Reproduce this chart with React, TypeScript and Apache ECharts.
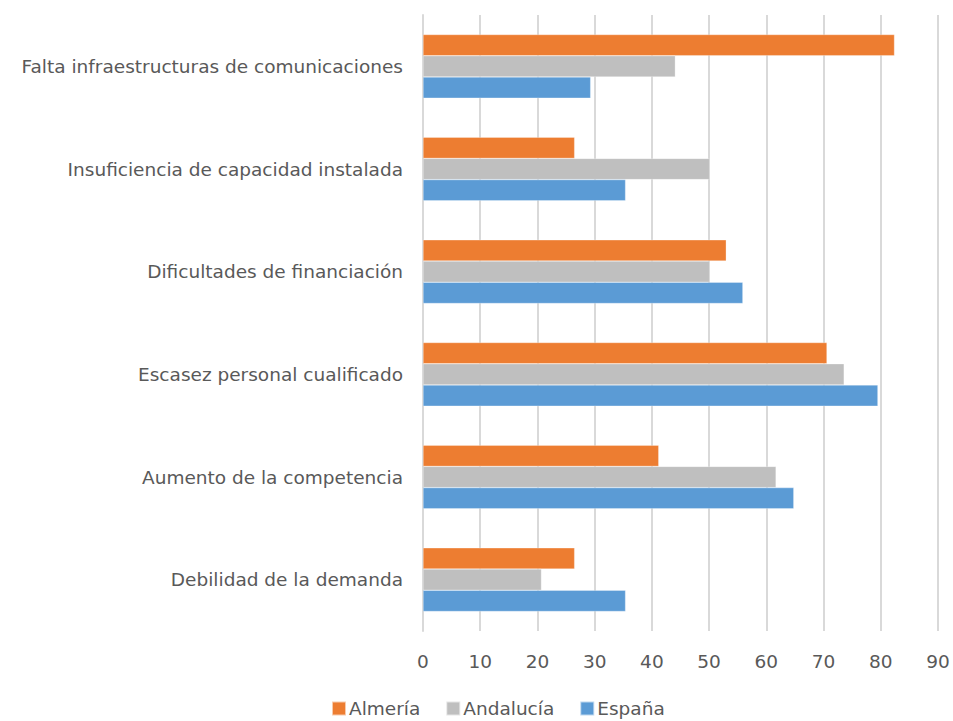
import React, { useEffect, useRef } from "react";
import * as echarts from "echarts";

const categories = [
  "Falta infraestructuras de comunicaciones",
  "Insuficiencia de capacidad instalada",
  "Dificultades de financiación",
  "Escasez personal cualificado",
  "Aumento de la competencia",
  "Debilidad de la demanda",
];
const almeria = [82.4, 26.5, 53.0, 70.6, 41.2, 26.5];
const andalucia = [44.1, 50.1, 50.1, 73.6, 61.7, 20.7];
const espana = [29.3, 35.4, 55.9, 79.5, 64.8, 35.4];

const FONT = "'DejaVu Sans', sans-serif";
const TXT = "#595959";

export default function App() {
  const ref = useRef<HTMLDivElement>(null);
  useEffect(() => {
    if (!ref.current) return;
    const chart = echarts.init(ref.current, undefined, { renderer: "svg" });
    const barStyle = (color: string) => ({
      type: "bar" as const,
      itemStyle: { color, borderColor: "rgba(255,255,255,0.6)", borderWidth: 0.5 },
      barGap: "0%",
      barCategoryGap: "38%",
    });
    chart.setOption({
      animation: false,
      backgroundColor: "#ffffff",
      textStyle: { fontFamily: FONT },
      grid: { left: 423, right: 15, top: 15, bottom: 90, containLabel: false },
      legend: {
        top: 699,
        left: 331,
        padding: 0,
        itemWidth: 14,
        itemHeight: 14,
        itemGap: 25,
        icon: "rect",
        textStyle: { fontSize: 18.5, color: TXT, fontFamily: FONT, padding: [0, 0, 0, -2] },
        data: ["Almería", "Andalucía", "España"],
      },
      xAxis: {
        type: "value",
        min: 0,
        max: 90,
        interval: 10,
        axisLine: { show: false },
        axisTick: { show: false },
        axisLabel: { fontSize: 18.5, color: TXT, margin: 21, fontFamily: FONT },
        splitLine: { show: true, lineStyle: { color: "#d9d9d9", width: 2 } },
      },
      yAxis: {
        type: "category",
        inverse: true,
        data: categories,
        axisLine: { show: true, lineStyle: { color: "#d9d9d9", width: 2 } },
        axisTick: { show: false },
        axisLabel: { fontSize: 18.5, color: TXT, margin: 20, fontFamily: FONT },
      },
      series: [
        { name: "Almería", data: almeria, ...barStyle("#ED7D31") },
        { name: "Andalucía", data: andalucia, ...barStyle("#BFBFBF") },
        { name: "España", data: espana, ...barStyle("#5B9BD5") },
      ],
    });
    return () => chart.dispose();
  }, []);
  return (
    <div
      ref={ref}
      style={{ width: 953, height: 721, position: "fixed", left: 0, top: 0 }}
    />
  );
}
